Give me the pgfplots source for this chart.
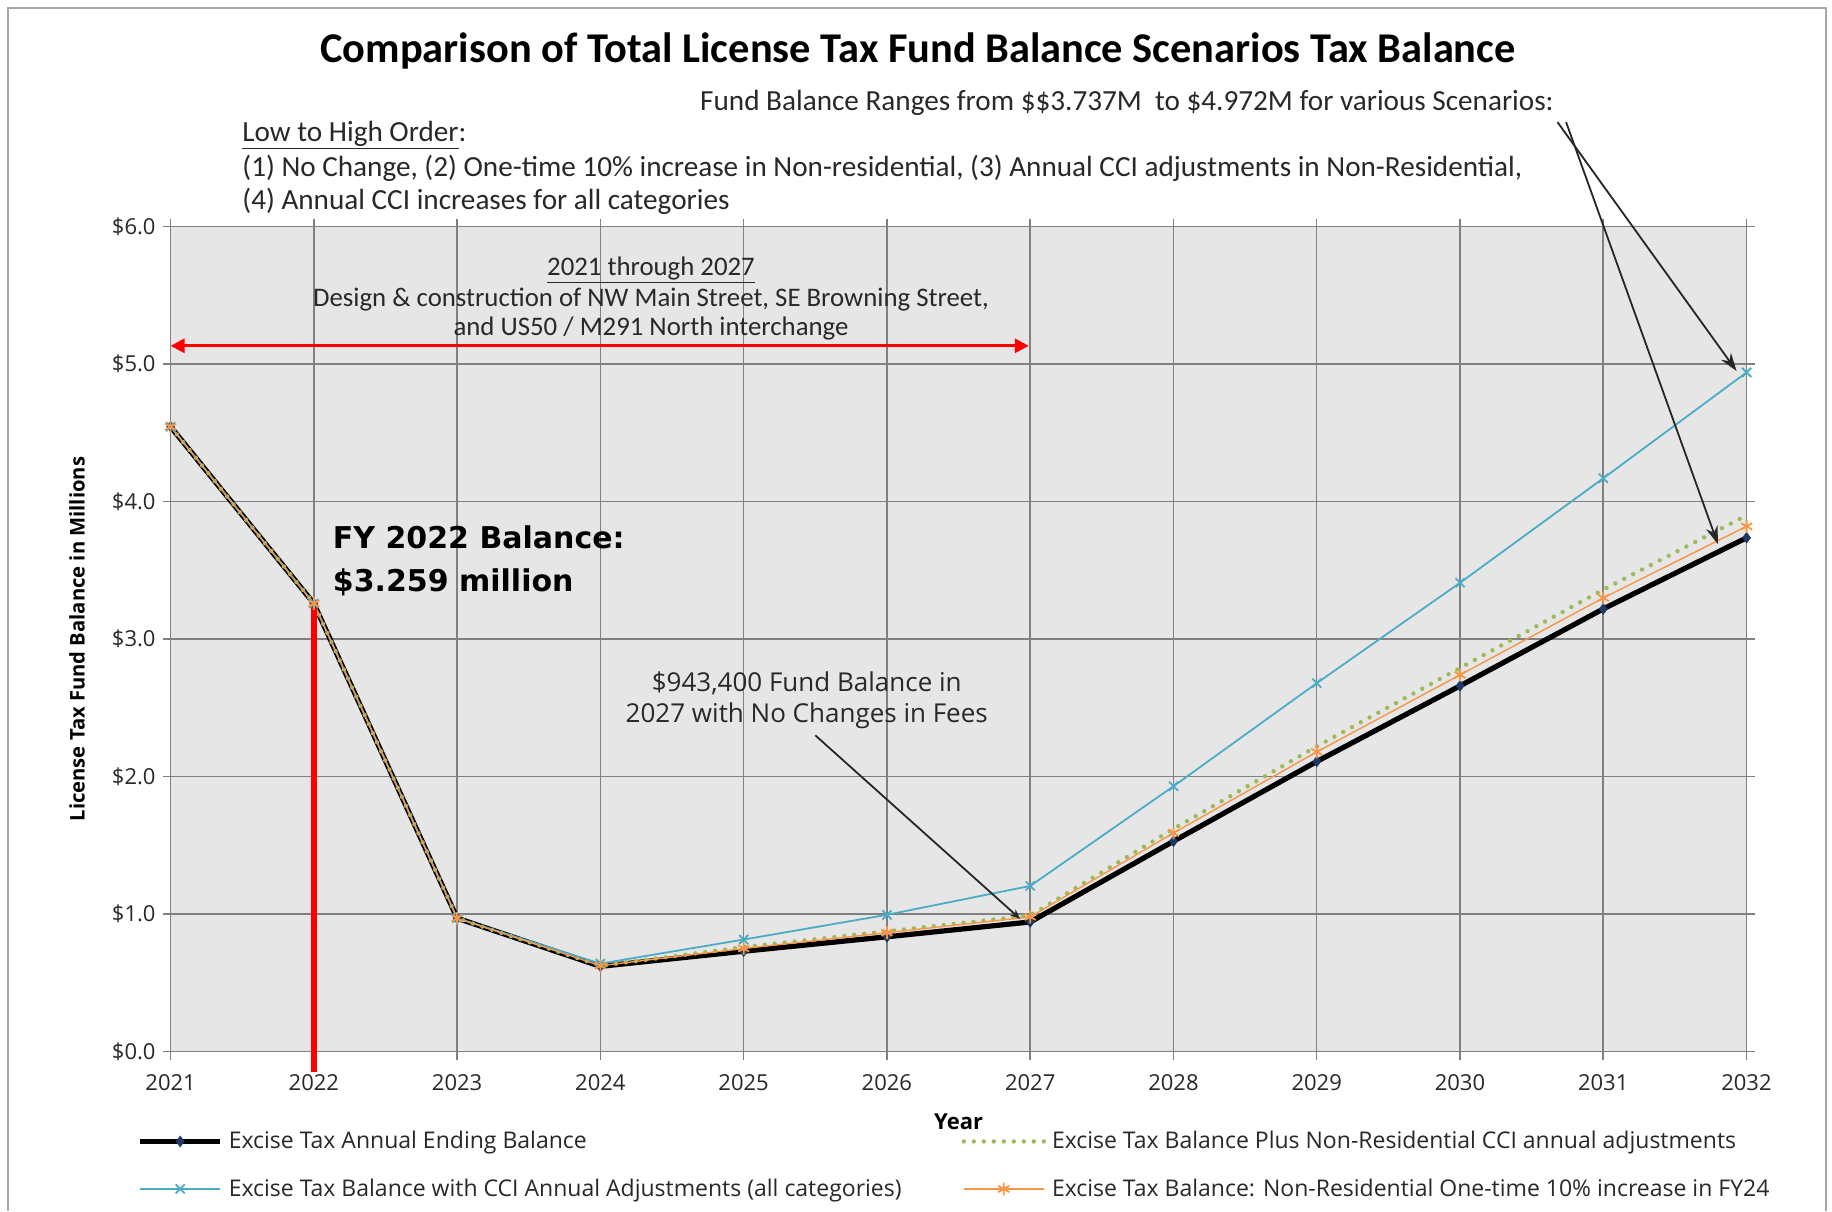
\documentclass[border=0pt]{standalone}
\usepackage{pgfplots}
\pgfplotsset{compat=1.18}
\usepackage{pgfplotstable}
\usepackage{fontspec}
\setmainfont{Open Sans}
\newfontfamily\calibri{Carlito}
\newfontfamily\verd{DejaVu Sans}
\usetikzlibrary{arrows.meta}
\definecolor{bgray}{RGB}{230,230,230}
\definecolor{ggray}{RGB}{128,128,128}
\definecolor{cblue}{RGB}{75,172,198}
\definecolor{corange}{RGB}{247,150,70}
\definecolor{cgreen}{RGB}{155,187,89}
\definecolor{navy}{RGB}{31,56,100}
\definecolor{txt}{RGB}{40,40,40}

\pgfplotstableread{
year base green blue orange
2021 4.545 4.545 4.545 4.545
2022 3.259 3.259 3.259 3.259
2023 0.970 0.970 0.970 0.970
2024 0.620 0.625 0.640 0.625
2025 0.730 0.760 0.815 0.750
2026 0.835 0.875 0.995 0.865
2027 0.943 0.990 1.205 0.980
2028 1.530 1.620 1.930 1.590
2029 2.110 2.220 2.680 2.180
2030 2.660 2.790 3.410 2.740
2031 3.220 3.360 4.170 3.300
2032 3.737 3.900 4.940 3.820
}\data

\begin{document}
\begin{tikzpicture}
\useasboundingbox (0,0) rectangle (916pt,-605.5pt);
\fill[white] (0,0) rectangle (916pt,-605.5pt);
\draw[gray!70, line width=1pt] (4pt,-605.5pt) -- (4pt,-4pt) -- (913pt,-4pt) -- (913pt,-605.5pt);

\begin{axis}[
  at={(85.3pt,-525.8pt)}, anchor=south west,
  width=788pt, height=412.5pt, scale only axis,
  xmin=2021, xmax=2032, ymin=0, ymax=6,
  xtick={2021,2022,...,2032}, ytick={0,1,...,6},
  yticklabels={\$0.0,\$1.0,\$2.0,\$3.0,\$4.0,\$5.0,\$6.0},
  xticklabel style={/pgf/number format/1000 sep={}, yshift=-4pt},
  /pgf/number format/assume math mode=true,
  ticklabel style={font=\fontsize{11}{13}\selectfont, text=txt},
  grid=major, major grid style={ggray, line width=0.7pt},
  axis background/.style={fill=bgray},
  axis line style={ggray, line width=0.7pt},
  tick style={ggray, line width=0.7pt}, tick align=outside, major tick length=4pt,
  clip=false,
  xlabel={Year},
  xlabel style={at={(axis description cs:0.5,-0.0848)}, anchor=center, font=\bfseries\fontsize{11}{13}\selectfont},
  ylabel={License Tax Fund Balance in Millions},
  ylabel style={at={(axis description cs:-0.0594,0.5)}, anchor=center, font=\bfseries\fontsize{10.1}{12}\selectfont},
  legend columns=2,
  legend cell align=left,
  legend style={at={(axis description cs:-0.025,-0.0863)}, anchor=north west, draw=none, fill=none,
    font=\fontsize{11.5}{14}\selectfont, text=txt, row sep=9.5pt,
    /tikz/column 1/.style={column sep=1pt},
    /tikz/column 2/.style={column sep=28pt},
    /tikz/column 3/.style={column sep=1pt}},
  legend image code/.code={\draw[mark repeat=2,mark phase=2] plot coordinates {(0pt,0pt) (20pt,0pt) (40pt,0pt)};},
]
\addplot[black, line width=2.6pt, mark=diamond*, mark size=2.6pt, mark options={fill=navy, draw=navy, line width=0.4pt}] table[x=year,y=base] {\data};
\addlegendentry{Excise Tax Annual Ending Balance}
\addplot[cgreen, line width=2.2pt, line cap=round, dash pattern=on 0pt off 5pt] table[x=year,y=green] {\data};
\addlegendentry{Excise Tax Balance Plus Non-Residential CCI annual adjustments}
\addplot[cblue, line width=0.9pt, mark=x, mark size=3.2pt, mark options={solid, line width=0.9pt}] table[x=year,y=blue] {\data};
\addlegendentry{Excise Tax Balance with CCI Annual Adjustments (all categories)}
\addplot[corange, line width=0.7pt, mark=asterisk, mark size=3.2pt, mark options={solid, line width=0.9pt}] table[x=year,y=orange] {\data};
\addlegendentry{Excise Tax Balance: Non-Residential One-time 10\% increase in FY24}

% red markers
\draw[red, line width=2.8pt] (axis cs:2022,3.25) -- (axis cs:2022,-0.148);
\draw[red, line width=1.5pt, {Triangle[length=7pt,width=7pt]}-{Triangle[length=7pt,width=7pt]}] (axis cs:2021,5.133) -- (axis cs:2026.99,5.133);

% annotation texts
\node[font=\calibri\fontsize{13.4}{15}\selectfont, text=txt] at (axis cs:2024.353,5.684) {\underline{2021 through 2027}};
\node[font=\calibri\fontsize{13.4}{15}\selectfont, text=txt] at (axis cs:2024.353,5.47) {Design \& construction of NW Main Street, SE Browning Street,};
\node[font=\calibri\fontsize{13.4}{15}\selectfont, text=txt] at (axis cs:2024.353,5.26) {and US50 / M291 North interchange};

\node[anchor=west, inner sep=0pt, font=\verd\bfseries\fontsize{15}{18}\selectfont] at (axis cs:2022.13,3.74) {FY 2022 Balance:};
\node[anchor=west, inner sep=0pt, font=\verd\bfseries\fontsize{15}{18}\selectfont] at (axis cs:2022.13,3.41) {\$3.259 million};

\node[font=\fontsize{13}{15}\selectfont, text=txt] at (axis cs:2025.44,2.68) {\$943,400 Fund Balance in};
\node[font=\fontsize{13}{15}\selectfont, text=txt] at (axis cs:2025.44,2.44) {2027 with No Changes in Fees};
\draw[black!85, line width=0.9pt, -{Stealth[length=5pt,width=4pt]}] (axis cs:2025.50,2.30) -- (axis cs:2026.93,0.965);

\draw[black!85, line width=0.9pt, -{Stealth[length=9pt,width=6pt]}] (axis cs:2030.68,6.76) -- (axis cs:2031.93,4.95);
\draw[black!85, line width=0.9pt, -{Stealth[length=9pt,width=6pt]}] (axis cs:2030.74,6.76) -- (axis cs:2031.80,3.69);
\end{axis}

% header
\node[font=\calibri\bfseries\fontsize{21.2}{24}\selectfont] at (459pt,-25.7pt) {Comparison of Total License Tax Fund Balance Scenarios Tax Balance};
\node[anchor=east, inner sep=0pt, font=\calibri\fontsize{14.6}{17}\selectfont, text=txt] at (777pt,-51.4pt) {Fund Balance Ranges from \$\$3.737M\ \ to \$4.972M for various Scenarios:};
\node[anchor=west, font=\calibri\fontsize{14.6}{17}\selectfont, text=txt, inner sep=0pt] at (121pt,-67.7pt) {\underline{Low to High Order}:};
\node[anchor=west, font=\calibri\fontsize{14.6}{17}\selectfont, text=txt, inner sep=0pt] at (121pt,-84.2pt) {(1) No Change, (2) One-time 10\% increase in Non-residential, (3) Annual CCI adjustments in Non-Residential,};
\node[anchor=west, font=\calibri\fontsize{14.6}{17}\selectfont, text=txt, inner sep=0pt] at (121pt,-100.5pt) {(4) Annual CCI increases for all categories};
\end{tikzpicture}
\end{document}
